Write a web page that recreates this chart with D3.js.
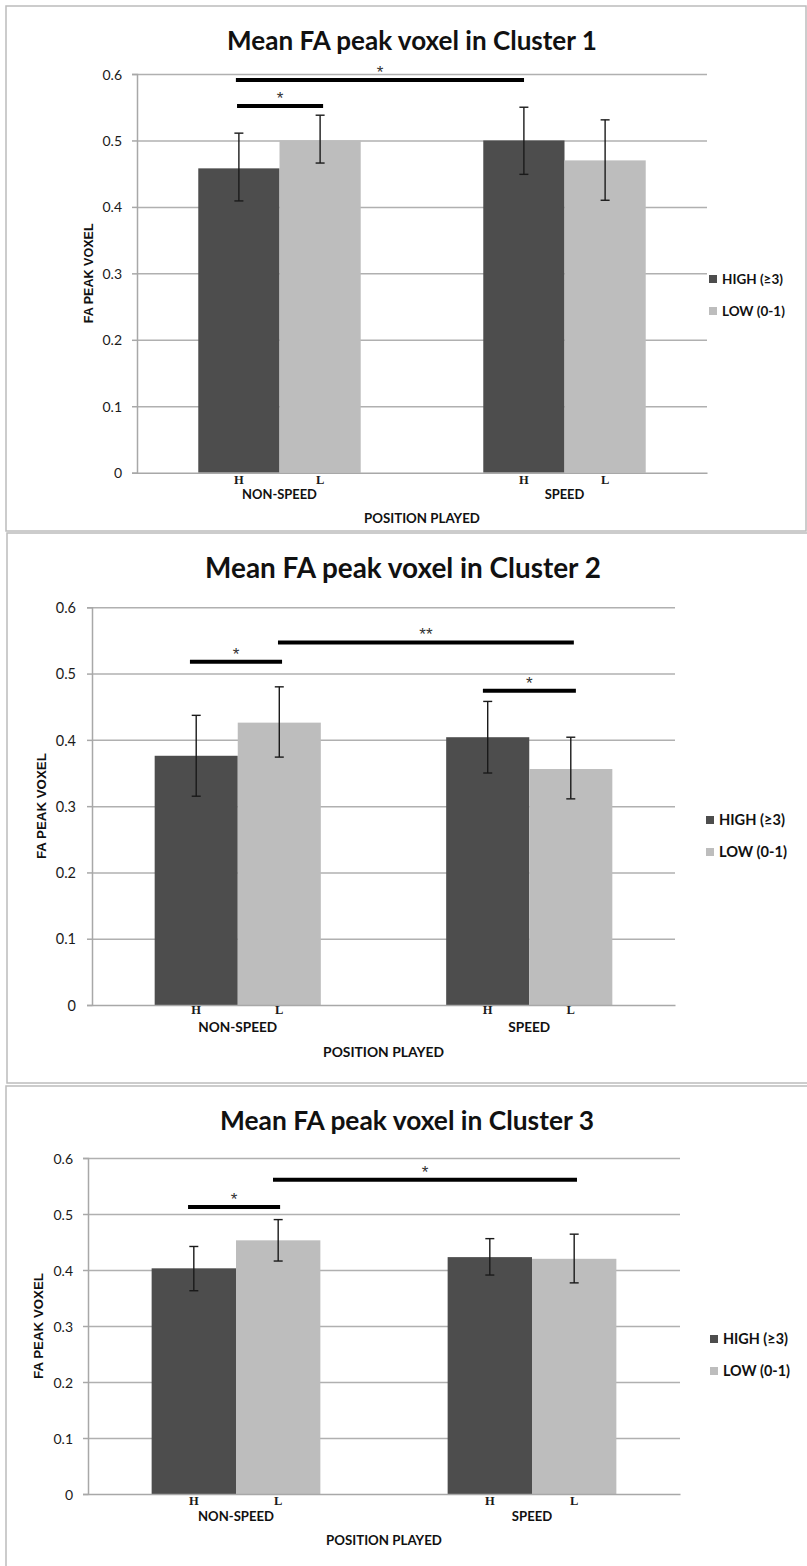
<!DOCTYPE html>
<html><head><meta charset="utf-8">
<script src="https://cdn.jsdelivr.net/npm/d3@7"></script>
<style>body{margin:0;background:#fff} svg{display:block}</style>
</head><body>
<svg id="chart" width="807" height="1566"></svg>
<script>
// ---------- DATA ----------
const categories = ["NON-SPEED", "SPEED"];
const seriesNames = ["HIGH (≥3)", "LOW (0-1)"];
const barLetters = ["H", "L"];
const yTickValues = [0, 0.1, 0.2, 0.3, 0.4, 0.5, 0.6];
const yTickLabels = ["0", "0.1", "0.2", "0.3", "0.4", "0.5", "0.6"];
const chartTitles = ["Mean FA peak voxel in Cluster 1", "Mean FA peak voxel in Cluster 2", "Mean FA peak voxel in Cluster 3"];
const yAxisTitle = "FA PEAK VOXEL";
const xAxisTitle = "POSITION PLAYED";

const cluster1High = [0.458, 0.500];
const cluster1Low = [0.500, 0.470];
const cluster1HighErr = [[0.409, 0.511], [0.449, 0.550]];
const cluster1LowErr = [[0.466, 0.538], [0.410, 0.531]];
const cluster1Sig = [
  { from: 0.347, to: 1.358, level: 0.591, mark: "*" },
  { from: 0.351, to: 0.653, level: 0.552, mark: "*" }
];

const cluster2High = [0.376, 0.404];
const cluster2Low = [0.426, 0.356];
const cluster2HighErr = [[0.315, 0.437], [0.350, 0.458]];
const cluster2LowErr = [[0.374, 0.480], [0.311, 0.404]];
const cluster2Sig = [
  { from: 0.336, to: 0.652, level: 0.518, mark: "*" },
  { from: 0.638, to: 1.653, level: 0.547, mark: "**" },
  { from: 1.341, to: 1.660, level: 0.474, mark: "*" }
];

const cluster3High = [0.403, 0.423];
const cluster3Low = [0.453, 0.420];
const cluster3HighErr = [[0.363, 0.442], [0.391, 0.456]];
const cluster3LowErr = [[0.416, 0.490], [0.377, 0.464]];
const cluster3Sig = [
  { from: 0.338, to: 0.649, level: 0.5125, mark: "*" },
  { from: 0.625, to: 1.652, level: 0.561, mark: "*" }
];

const panelsData = [
  { high: cluster1High, low: cluster1Low, highErr: cluster1HighErr, lowErr: cluster1LowErr, sig: cluster1Sig },
  { high: cluster2High, low: cluster2Low, highErr: cluster2HighErr, lowErr: cluster2LowErr, sig: cluster2Sig },
  { high: cluster3High, low: cluster3Low, highErr: cluster3HighErr, lowErr: cluster3LowErr, sig: cluster3Sig }
];

// ---------- LAYOUT ----------
const layouts = [
  { frame: [6, 6, 800, 525], left: 137, right: 707, top: 74, bottom: 472.7,
    titleX: 412, titleY: 50, titleW: 370, tickSize: 14, tickGap: 15,
    legendX: 709, legendY: [275, 307], legendTextX: 722, legendW: 61,
    yTitleX: 89, yTitleLen: 100, letterY: 483, catY: 499, catW: 75, xTitleY: 523, xTitleW: 116 },
  { frame: [7, 533, 805, 550], left: 92, right: 675, top: 607.3, bottom: 1005,
    titleX: 403, titleY: 578, titleW: 396, tickSize: 14.5, tickGap: 16,
    legendX: 706, legendY: [816, 848], legendTextX: 719, legendW: 66,
    yTitleX: 42, yTitleLen: 106, letterY: 1013, catY: 1032, catW: 79, xTitleY: 1057, xTitleW: 121 },
  { frame: [6, 1086, 810, 500], left: 88, right: 680, top: 1158, bottom: 1494,
    titleX: 407, titleY: 1130, titleW: 374, tickSize: 14, tickGap: 15,
    legendX: 710, legendY: [1335, 1367], legendTextX: 723, legendW: 65,
    yTitleX: 39, yTitleLen: 106, letterY: 1504, catY: 1521, catW: 76, xTitleY: 1545, xTitleW: 116 }
];

const barColors = ["#4d4d4d", "#bdbdbd"];
const gridColor = "#b0b0b0";
const sansFont = "Lato, 'Open Sans', sans-serif";

const svg = d3.select("#chart");

function fitWidth(sel, target) {
  const base = parseFloat(sel.attr("font-size"));
  const len = sel.node().getComputedTextLength();
  if (len > 0) sel.attr("font-size", base * target / len);
  return sel;
}

panelsData.forEach((pd, pi) => {
  const L = layouts[pi];
  const g = svg.append("g");

  // frame
  g.append("rect")
    .attr("x", L.frame[0]).attr("y", L.frame[1])
    .attr("width", L.frame[2]).attr("height", L.frame[3])
    .attr("fill", "#fff").attr("stroke", "#bcbcbc").attr("stroke-width", 1.5);

  const y = d3.scaleLinear().domain([0, 0.6]).range([L.bottom, L.top]);
  const x = d3.scaleBand().domain(categories).range([L.left, L.right])
    .paddingInner(0.43).paddingOuter(0.215);
  const xs = d3.scaleBand().domain(seriesNames).range([0, x.bandwidth()]);
  const slot = d3.scaleLinear().domain([0, 2]).range([L.left, L.right]);

  // gridlines
  const grid = g.append("g").attr("transform", `translate(${L.left},0)`)
    .call(d3.axisLeft(y).tickValues(yTickValues.filter(v => v > 0))
      .tickSize(-(L.right - L.left)).tickFormat(""));
  grid.select(".domain").remove();
  grid.selectAll("line").attr("stroke", gridColor).attr("stroke-width", 1.5);

  // bars
  const rows = categories.map((c, ci) => [
    { cat: c, s: seriesNames[0], v: pd.high[ci], e: pd.highErr[ci], color: barColors[0] },
    { cat: c, s: seriesNames[1], v: pd.low[ci], e: pd.lowErr[ci], color: barColors[1] }
  ]).flat();

  g.append("g").selectAll("rect").data(rows).join("rect")
    .attr("x", d => x(d.cat) + xs(d.s))
    .attr("width", xs.bandwidth())
    .attr("y", d => y(d.v))
    .attr("height", d => y(0) - y(d.v))
    .attr("fill", d => d.color);

  // y axis
  const ya = g.append("g").attr("transform", `translate(${L.left},0)`)
    .call(d3.axisLeft(y).tickValues(yTickValues)
      .tickFormat((d, i) => yTickLabels[i]).tickSize(5).tickPadding(L.tickGap - 5));
  ya.select(".domain").attr("stroke", "#a8a8a8").attr("stroke-width", 1.5);
  ya.selectAll(".tick line").attr("stroke", "#a8a8a8").attr("stroke-width", 1.5);
  ya.selectAll(".tick text").attr("fill", "#1a1a1a").attr("font-family", sansFont)
    .attr("font-size", L.tickSize).attr("dy", "0.36em");

  // x axis line
  const xa = g.append("g").attr("transform", `translate(0,${y(0)})`)
    .call(d3.axisBottom(x).tickSize(0).tickFormat(""));
  xa.select(".domain").attr("stroke", "#a8a8a8").attr("stroke-width", 1.5);

  // error bars
  const capW = 9;
  const eg = g.append("g").attr("stroke", "#1a1a1a").attr("stroke-width", 1.4);
  rows.forEach(d => {
    const cx = x(d.cat) + xs(d.s) + xs.bandwidth() / 2;
    eg.append("line").attr("x1", cx).attr("x2", cx).attr("y1", y(d.e[0])).attr("y2", y(d.e[1]));
    eg.append("line").attr("x1", cx - capW / 2).attr("x2", cx + capW / 2).attr("y1", y(d.e[0])).attr("y2", y(d.e[0]));
    eg.append("line").attr("x1", cx - capW / 2).attr("x2", cx + capW / 2).attr("y1", y(d.e[1])).attr("y2", y(d.e[1]));
  });

  // significance bars
  const sg = g.append("g");
  sg.selectAll("line").data(pd.sig).join("line")
    .attr("x1", d => slot(d.from)).attr("x2", d => slot(d.to))
    .attr("y1", d => y(d.level)).attr("y2", d => y(d.level))
    .attr("stroke", "#000").attr("stroke-width", 4);
  sg.selectAll("text").data(pd.sig).join("text")
    .attr("x", d => (slot(d.from) + slot(d.to)) / 2)
    .attr("y", d => y(d.level) - 2)
    .attr("text-anchor", "middle")
    .attr("font-family", "'Liberation Sans', Arial, sans-serif")
    .attr("font-size", 17).attr("fill", "#333")
    .text(d => d.mark);

  // title
  const t = g.append("text").attr("x", L.titleX).attr("y", L.titleY)
    .attr("text-anchor", "middle").attr("font-family", sansFont)
    .attr("font-weight", "bold").attr("font-size", 24).attr("fill", "#111")
    .text(chartTitles[pi]);
  fitWidth(t, L.titleW);

  // bar letters H / L
  rows.forEach((d, i) => {
    g.append("text")
      .attr("x", x(d.cat) + xs(d.s) + xs.bandwidth() / 2)
      .attr("y", L.letterY + 0.5)
      .attr("text-anchor", "middle")
      .attr("font-family", "'Liberation Serif', 'Times New Roman', serif")
      .attr("font-weight", "bold").attr("font-size", 12.5).attr("fill", "#1a1a1a")
      .text(barLetters[i % 2]);
  });

  // category labels
  const catSel = g.append("g").selectAll("text").data(categories).join("text")
    .attr("x", d => x(d) + x.bandwidth() / 2)
    .attr("y", L.catY)
    .attr("text-anchor", "middle").attr("font-family", sansFont)
    .attr("font-weight", "bold").attr("font-size", 13).attr("fill", "#111")
    .text(d => d);
  const first = d3.select(catSel.nodes()[0]);
  fitWidth(first, L.catW);
  catSel.attr("font-size", first.attr("font-size"));

  // x axis title
  const xt = g.append("text").attr("x", (L.left + L.right) / 2).attr("y", L.xTitleY)
    .attr("text-anchor", "middle").attr("font-family", sansFont)
    .attr("font-weight", "bold").attr("font-size", 13).attr("fill", "#111")
    .text(xAxisTitle);
  fitWidth(xt, L.xTitleW);

  // y axis title
  const yt = g.append("text")
    .attr("transform", `translate(${L.yTitleX + 4},${(L.top + L.bottom) / 2}) rotate(-90)`)
    .attr("text-anchor", "middle").attr("font-family", "'Liberation Sans', Arial, sans-serif")
    .attr("font-weight", "bold").attr("font-size", 11).attr("fill", "#111")
    .text(yAxisTitle);
  fitWidth(yt, L.yTitleLen);

  // legend
  let legendSize = 12.5;
  seriesNames.forEach((s, si) => {
    g.append("rect").attr("x", L.legendX).attr("y", L.legendY[si])
      .attr("width", 8).attr("height", 8).attr("fill", barColors[si]);
    const lt = g.append("text").attr("x", L.legendTextX).attr("y", L.legendY[si] + 9)
      .attr("font-family", sansFont).attr("font-weight", "bold")
      .attr("font-size", legendSize).attr("fill", "#111").text(s);
    if (si === 0) { fitWidth(lt, L.legendW); legendSize = lt.attr("font-size"); }
  });
});
</script>
</body></html>
